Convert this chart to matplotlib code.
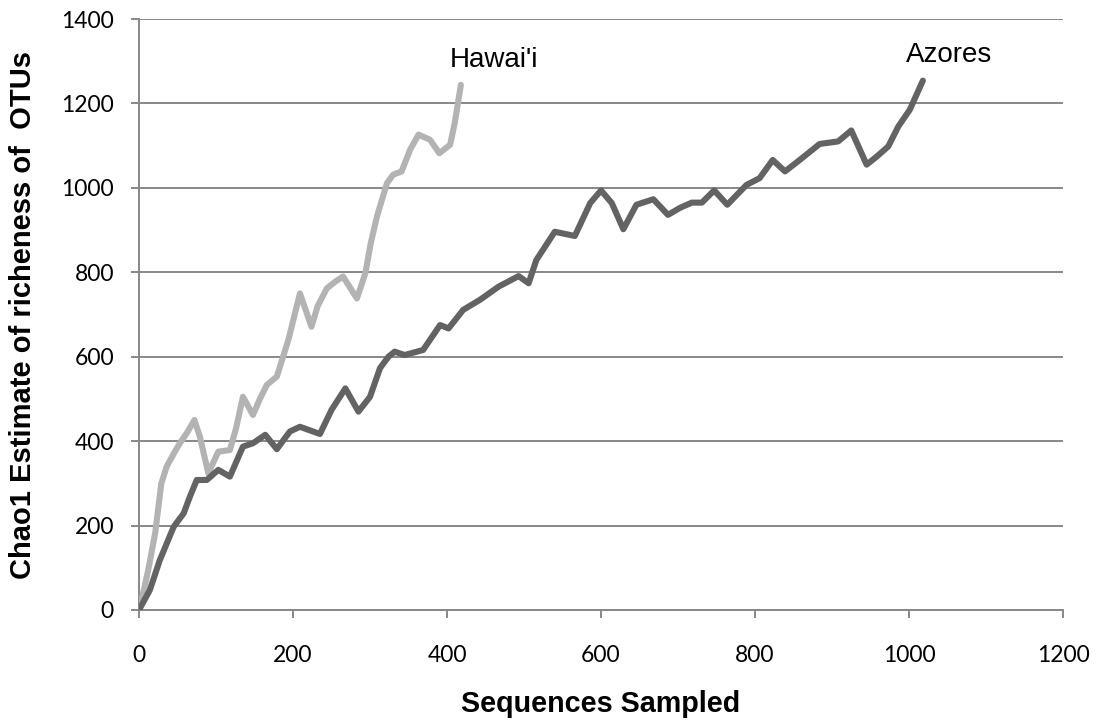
import matplotlib
matplotlib.use("Agg")
import matplotlib.pyplot as plt

# ---- data ----
hawaii_x = [0, 6, 12, 21, 29, 36, 45, 53, 62, 72, 79, 90, 103, 118, 126, 135, 148, 157, 166, 179,
            194, 209, 224, 232, 244, 255, 265, 283, 294, 301, 309, 322, 330, 341, 352, 363, 378,
            390, 404, 410, 418]
hawaii_y = [0, 45, 95, 182, 300, 340, 370, 395, 419, 450, 411, 324, 375, 379, 430, 505, 462, 500, 533, 553,
            640, 750, 671, 720, 762, 778, 790, 738, 798, 869, 932, 1011, 1031, 1039, 1090, 1126, 1114,
            1082, 1102, 1153, 1244]

azores_x = [0, 14, 27, 45, 58, 66, 75, 88, 103, 118, 135, 148, 164, 179, 196, 209, 235, 250, 268, 285,
            300, 313, 324, 332, 345, 369, 391, 402, 421, 443, 467, 493, 506, 516, 540, 566, 586, 600,
            614, 629, 646, 668, 687, 703, 718, 731, 747, 764, 789, 806, 823, 839, 858, 884, 908, 925,
            945, 958, 973, 986, 1001, 1018]
azores_y = [0, 47, 118, 197, 229, 268, 308, 308, 332, 316, 387, 395, 415, 381, 423, 434, 417, 474, 525, 470,
            505, 573, 600, 612, 604, 616, 675, 667, 711, 735, 766, 791, 774, 829, 896, 886, 964, 994,
            964, 902, 960, 973, 936, 953, 965, 965, 994, 960, 1007, 1023, 1066, 1039, 1066, 1104, 1110, 1136,
            1055, 1074, 1098, 1145, 1185, 1254]

x_ticks = [0, 200, 400, 600, 800, 1000, 1200]
y_ticks = [0, 200, 400, 600, 800, 1000, 1200, 1400]

series_labels = ["Hawai'i", "Azores"]
label_pos = [(404, 1287), (996, 1297)]

x_label = "Sequences Sampled"
y_label = "Chao1 Estimate of richeness of  OTUs"

# ---- figure ----
W, H = 1097, 726
fig = plt.figure(figsize=(W / 100, H / 100), dpi=100)
ax = fig.add_axes([139 / W, 1 - 610 / H, (1063 - 139) / W, (610 - 19) / H])

grid_c = "#888888"
ax.set_xlim(0, 1200)
ax.set_ylim(0, 1400)
ax.set_xticks(x_ticks)
ax.set_yticks(y_ticks)
ax.yaxis.grid(True, color=grid_c, linewidth=1.4)
ax.set_axisbelow(True)
for s in ["top", "right"]:
    ax.spines[s].set_visible(False)
for s in ["left", "bottom"]:
    ax.spines[s].set_color(grid_c)
    ax.spines[s].set_linewidth(1.4)

ax.tick_params(axis="both", direction="out", length=6, width=1.4, color=grid_c,
               labelsize=16.5, labelcolor="black")
ax.tick_params(axis="y", pad=12)
ax.tick_params(axis="x", pad=19)
for lab in ax.get_xticklabels() + ax.get_yticklabels():
    lab.set_family("Lato")

ax.plot(hawaii_x, hawaii_y, color="#b3b3b3", linewidth=4.4,
        solid_joinstyle="round", solid_capstyle="round", zorder=3)
ax.plot(azores_x, azores_y, color="#636363", linewidth=4.4,
        solid_joinstyle="round", solid_capstyle="round", zorder=4)

for txt, (lx, ly) in zip(series_labels, label_pos):
    ax.text(lx, ly, txt, ha="left", va="baseline", fontsize=20,
            family="Liberation Sans", color="black", clip_on=False)

fig.text(601 / W, 1 - 704 / H, x_label, ha="center", va="center", fontsize=20.7,
         fontweight="bold", family="Liberation Sans")
fig.text(23 / W, 1 - 315 / H, y_label, ha="center", va="center", rotation=90,
         fontsize=21, fontweight="bold", family="Liberation Sans")

fig.savefig("out.png", dpi=100)
